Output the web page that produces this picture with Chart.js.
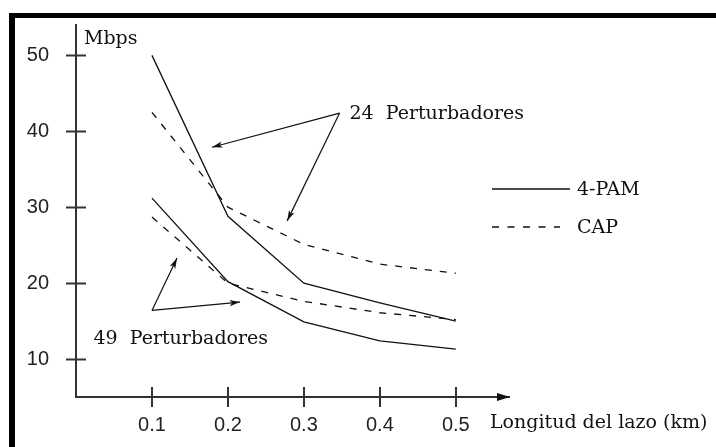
<!DOCTYPE html>
<html>
<head>
<meta charset="utf-8">
<script src="https://cdn.jsdelivr.net/npm/chart.js@4.4.1/dist/chart.umd.min.js"></script>
<style>
  html, body { margin: 0; padding: 0; background: #fff; }
  #wrap { width: 716px; height: 447px; }
</style>
</head>
<body>
<div id="wrap"><canvas id="chart" width="716" height="447"></canvas></div>
<script>
// Longitud del lazo (km)
const lengths = [0.1, 0.2, 0.3, 0.4, 0.5];
const xTicks = [0.1, 0.2, 0.3, 0.4, 0.5];
const yTicks = [10, 20, 30, 40, 50];

// Mbps, 24 perturbadores
const pam24 = [50, 28.8, 20, 17.4, 15];
const cap24 = [42.5, 30, 25.1, 22.5, 21.3];
// Mbps, 49 perturbadores
const pam49 = [31.2, 20.2, 14.9, 12.4, 11.3];
const cap49 = [28.7, 20, 17.6, 16.1, 15.2];

const seriesNames = ['4-PAM', 'CAP'];

// annotation arrows in data coordinates: [from, to]
const arrows24 = [[[0.347, 42.4], [0.179, 37.9]], [[0.347, 42.4], [0.278, 28.2]]];
const arrows49 = [[[0.1, 16.4], [0.133, 23.3]], [[0.1, 16.4], [0.216, 17.5]]];

const serif = '19px "DejaVu Serif", serif';
const ink = '#111';

function toPoints(values) {
  return lengths.map((x, i) => ({ x: x, y: values[i] }));
}

const solid = [];
const dashed = [7, 8];

const decorations = {
  id: 'decorations',
  beforeDraw(chart) {
    const c = chart.ctx;
    c.save();
    c.fillStyle = '#fff';
    c.fillRect(0, 0, chart.width, chart.height);
    // frame
    c.fillStyle = '#000';
    c.fillRect(9, 13, chart.width - 9, 5);
    c.fillRect(9, 13, 6, chart.height - 13);
    c.restore();
  },
  afterDraw(chart) {
    const c = chart.ctx;
    const xs = chart.scales.x;
    const ys = chart.scales.y;
    const area = chart.chartArea;
    c.save();

    // tick marks crossing the axes
    c.strokeStyle = '#333';
    c.lineWidth = 2;
    yTicks.forEach(v => {
      const py = Math.round(ys.getPixelForValue(v)) + 0.5;
      c.beginPath();
      c.moveTo(area.left - 10, py);
      c.lineTo(area.left + 10, py);
      c.stroke();
    });
    xTicks.forEach(v => {
      const px = Math.round(xs.getPixelForValue(v));
      c.beginPath();
      c.moveTo(px, area.bottom - 10);
      c.lineTo(px, area.bottom + 10);
      c.stroke();
    });

    // arrow at the end of the x axis
    c.fillStyle = '#111';
    c.beginPath();
    c.moveTo(area.right + 1, area.bottom);
    c.lineTo(area.right - 12, area.bottom - 4);
    c.lineTo(area.right - 12, area.bottom + 4);
    c.closePath();
    c.fill();

    // annotation arrows
    c.strokeStyle = ink;
    c.fillStyle = ink;
    c.lineWidth = 1.2;
    arrows24.concat(arrows49).forEach(a => {
      const x0 = xs.getPixelForValue(a[0][0]);
      const y0 = ys.getPixelForValue(a[0][1]);
      const x1 = xs.getPixelForValue(a[1][0]);
      const y1 = ys.getPixelForValue(a[1][1]);
      c.beginPath();
      c.moveTo(x0, y0);
      c.lineTo(x1, y1);
      c.stroke();
      const ang = Math.atan2(y1 - y0, x1 - x0);
      c.beginPath();
      c.moveTo(x1, y1);
      c.lineTo(x1 - 11 * Math.cos(ang - 0.28), y1 - 11 * Math.sin(ang - 0.28));
      c.lineTo(x1 - 8 * Math.cos(ang), y1 - 8 * Math.sin(ang));
      c.lineTo(x1 - 11 * Math.cos(ang + 0.28), y1 - 11 * Math.sin(ang + 0.28));
      c.closePath();
      c.fill();
    });

    // texts
    c.font = serif;
    c.fillStyle = ink;
    c.textBaseline = 'middle';
    c.textAlign = 'left';
    c.fillText('24  Perturbadores', xs.getPixelForValue(0.36), ys.getPixelForValue(42.4) + 1);
    c.fillText('49  Perturbadores', xs.getPixelForValue(0.023), ys.getPixelForValue(12.6));
    c.fillText('Mbps', area.left + 8, area.top + 14);
    c.fillText('Longitud del lazo (km)', area.right - 19, area.bottom + 26);

    // legend
    const lx0 = area.right - 17;
    const lx1 = area.right + 61;
    const legendY = [ys.getPixelForValue(32.4), ys.getPixelForValue(27.4)];
    seriesNames.forEach((name, i) => {
      c.save();
      c.strokeStyle = ink;
      c.lineWidth = 1.5;
      c.setLineDash(i === 0 ? solid : [7, 8.5]);
      c.beginPath();
      c.moveTo(lx0, legendY[i]);
      c.lineTo(i === 0 ? lx1 : lx1 - 10, legendY[i]);
      c.stroke();
      c.restore();
      c.fillText(name, area.right + 68, legendY[i] + 1);
    });

    c.restore();
  }
};

const lineStyle = {
  borderColor: ink,
  borderWidth: 1.3,
  pointRadius: 0,
  tension: 0,
  fill: false
};

// eslint-disable-next-line no-new
new Chart(document.getElementById('chart').getContext('2d'), {
  type: 'line',
  data: {
    datasets: [
      Object.assign({ label: '4-PAM 24', data: toPoints(pam24), borderDash: solid }, lineStyle),
      Object.assign({ label: 'CAP 24', data: toPoints(cap24), borderDash: dashed }, lineStyle),
      Object.assign({ label: '4-PAM 49', data: toPoints(pam49), borderDash: solid }, lineStyle),
      Object.assign({ label: 'CAP 49', data: toPoints(cap49), borderDash: dashed }, lineStyle)
    ]
  },
  options: {
    responsive: false,
    animation: false,
    layout: {
      padding: { left: 0, right: 207, top: 25, bottom: 0 }
    },
    scales: {
      x: {
        type: 'linear',
        min: 0,
        max: 0.57,
        grid: { display: false, drawTicks: true, tickLength: 16 },
        border: { display: true, color: '#333', width: 2 },
        afterBuildTicks: scale => {
          scale.ticks = xTicks.map(v => ({ value: v }));
        },
        afterFit: scale => {
          scale.height = 50;
        },
        ticks: {
          padding: 0,
          color: '#222',
          font: { family: '"Liberation Sans", Arial, sans-serif', size: 20 },
          callback: v => v.toFixed(1)
        }
      },
      y: {
        min: 5,
        max: 54,
        grid: { display: false, drawTicks: true, tickLength: 27 },
        border: { display: true, color: '#333', width: 2 },
        afterBuildTicks: scale => {
          scale.ticks = yTicks.map(v => ({ value: v }));
        },
        afterFit: scale => {
          scale.width = 76;
        },
        ticks: {
          padding: 0,
          color: '#222',
          font: { family: '"Liberation Sans", Arial, sans-serif', size: 20 },
          callback: v => String(v)
        }
      }
    },
    plugins: {
      legend: { display: false },
      tooltip: { enabled: false }
    }
  },
  plugins: [decorations]
});
</script>
</body>
</html>
